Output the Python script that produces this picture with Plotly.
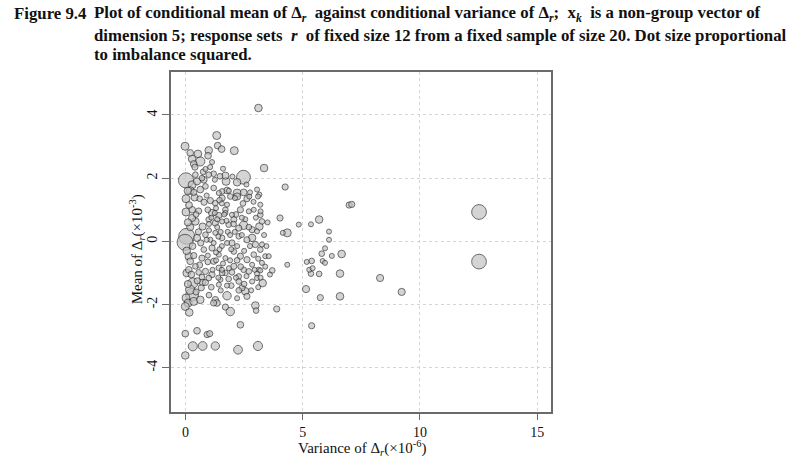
import plotly.graph_objects as go

# ---- data: (variance x1e-6, mean x1e-3, imbalance^2) ----
# sparse points to the right / outliers
var_right = [4.25, 6.98, 7.09, 4.03, 4.83, 5.35, 5.70, 4.34, 6.12, 6.12,
             5.95, 5.81, 6.24, 6.66, 5.85, 5.95, 5.17, 5.38, 4.34, 5.28,
             5.42, 5.35, 5.70, 6.59, 8.30, 3.70, 5.14, 5.75, 6.59, 9.22,
             3.89, 5.38, 12.52, 12.52, 3.11, 3.35, 4.15, 3.55]
mean_right = [1.72, 1.15, 1.17, 0.74, 0.53, 0.54, 0.69, 0.27, 0.31, 0.05,
              -0.22, -0.39, -0.46, -0.40, -0.62, -0.68, -0.65, -0.62, -0.74, -0.90,
              -0.85, -1.02, -1.03, -1.02, -1.16, -0.92, -1.51, -1.78, -1.74, -1.60,
              -2.14, -2.67, 0.93, -0.64, 4.22, 2.32, 0.27, -0.47]
imb_right = [0.6, 0.6, 0.6, 0.6, 0.12, 0.25, 0.9, 1.0, 0.3, 0.3,
             0.2, 0.5, 0.3, 0.9, 0.3, 0.3, 0.15, 0.5, 0.12, 0.4,
             0.4, 0.5, 0.5, 0.9, 0.8, 0.5, 0.8, 0.6, 0.9, 0.8,
             0.6, 0.6, 3.4, 3.4, 0.9, 0.9, 0.12, 0.12]

# upper cluster
var_top = [-0.02, 1.33, 1.37, 1.54, 2.08, 0.20, 0.53, 0.99, 0.96, 0.28,
           0.63, 0.35, 1.13, 0.85, 0.02, 2.47, 1.70, 1.73, 1.20, 0.99,
           0.78, 0.49, 0.42, 0.28, 2.20, 3.05, 3.15, 2.72, 0.20, 0.63,
           1.20, 1.56, 1.77, 2.20, 2.48, 0.85, 1.42, 1.91, 2.11, 1.47]
mean_top = [3.01, 3.35, 3.03, 2.92, 2.87, 2.80, 2.77, 2.88, 2.71, 2.61,
            2.53, 2.45, 2.51, 2.29, 1.93, 2.03, 2.08, 1.90, 2.14, 2.11,
            1.95, 1.90, 2.11, 1.79, 1.87, 1.64, 1.48, 1.42, 1.61, 1.64,
            1.69, 1.58, 1.61, 1.53, 1.55, 1.74, 1.53, 1.42, 1.37, 2.06]
imb_top = [1.0, 1.0, 0.7, 0.7, 1.0, 0.7, 0.9, 0.9, 0.7, 0.9,
           1.3, 0.7, 0.3, 0.4, 3.6, 3.0, 0.8, 1.0, 0.5, 0.5,
           0.7, 0.8, 0.5, 1.0, 0.9, 0.4, 0.4, 0.4, 0.9, 0.7,
           0.5, 0.5, 0.7, 1.0, 0.7, 0.5, 0.4, 0.5, 0.4, 0.5]

# middle band
var_mid = [0.02, 0.39, 0.79, 1.06, 1.27, 1.56, 1.77, 2.20, 2.62, 3.09, 3.19,
           0.02, 0.28, 0.56, 1.13, 1.42, 1.70, 1.98, 2.34, 2.70, 2.91, 3.19, 3.26,
           0.28, 0.42, 0.73, 0.99, 1.27, 1.56, 1.84, 2.06, 2.27, 2.48, 2.84, 3.15, 3.05,
           0.49, 0.85, 1.06, 1.27, 1.56, 1.77, 1.98, 2.27, 2.62, 2.84, 2.98, 3.19, 3.26,
           0.14, 0.20, 0.70, 0.78, 1.13, 1.20, 1.42, 1.70, 2.06, 2.34, 2.62, 2.91, 3.40,
           0.14, 0.42, 0.85, 1.42, 1.70, 2.06, 2.48, 2.84, 3.12, 3.26,
           0.05, -0.02]
mean_mid = [1.35, 1.39, 1.24, 1.29, 1.21, 1.37, 1.16, 1.42, 1.35, 1.42, 1.16,
            0.93, 1.00, 0.96, 0.90, 0.82, 1.00, 0.84, 1.00, 0.95, 1.00, 0.84, 0.63,
            0.74, 0.63, 0.47, 0.69, 0.58, 0.63, 0.53, 0.69, 0.42, 0.51, 0.37, 0.47, 0.32,
            0.11, 0.21, 0.05, 0.27, 0.11, -0.05, -0.05, 0.16, 0.05, 0.11, -0.10, -0.26, -0.10,
            -0.47, -0.63, -0.53, -0.26, -0.21, -0.63, -0.42, -0.53, -0.32, -0.47, -0.58, -0.42, -0.47,
            -0.90, -0.79, -0.95, -0.84, -1.00, -0.79, -0.90, -0.74, -0.90, -0.68,
            0.16, -0.03]
imb_mid = [1.0, 0.8, 0.6, 0.6, 0.5, 0.6, 0.4, 0.8, 0.6, 0.4, 0.4,
           1.0, 0.7, 0.6, 0.8, 0.6, 0.5, 0.4, 0.6, 0.4, 0.3, 0.5, 0.5,
           0.8, 0.9, 0.8, 0.5, 0.6, 0.4, 0.5, 0.6, 0.6, 1.1, 0.6, 0.9, 0.4,
           0.8, 0.5, 0.4, 0.3, 0.5, 0.3, 0.6, 0.5, 0.6, 0.9, 0.6, 0.5, 0.4,
           0.9, 0.7, 0.6, 0.5, 0.6, 0.6, 0.4, 0.3, 0.5, 0.6, 0.6, 0.5, 0.4,
           0.7, 0.5, 0.6, 0.5, 0.5, 0.6, 0.5, 0.3, 0.4, 0.3,
           4.0, 4.0]

# lower cluster
var_low = [0.56, 1.13, 1.56, 1.98, 2.27, 2.70, 3.05, 3.19, 0.70,
           0.99, 1.49, 1.84, 2.27, 2.84, 3.05,
           0.31, 0.28, 0.20, 0.02, 0.11, 0.35, -0.01, 0.16, 0.73, 0.67,
           0.63, 1.77, 1.27, 1.20, 1.34, 1.91, 1.70, 2.98, 3.01, 3.29,
           2.55, 2.41, 2.62, 2.27, 1.77, 1.42, 2.34, -0.01, 0.49, 0.92,
           1.03, 0.31, 0.73, 1.27, 2.24, 3.09, -0.01]
mean_low = [-0.98, -1.05, -1.00, -0.98, -1.11, -0.95, -1.02, -0.92, -1.13,
            -1.16, -1.21, -1.19, -1.27, -1.27, -1.16,
            -1.32, -1.69, -1.53, -1.79, -1.95, -1.90, -2.06, -2.25, -1.30, -1.47,
            -1.85, -1.72, -1.85, -1.95, -1.95, -2.22, -2.08, -2.03, -2.19, -1.32,
            -1.58, -1.47, -1.74, -1.55, -1.40, -1.37, -2.64, -2.92, -2.83, -2.95,
            -2.92, -3.32, -3.31, -3.31, -3.43, -3.31, -3.61]
imb_low = [0.5, 0.6, 0.5, 0.5, 0.5, 0.5, 0.4, 0.3, 0.5,
           0.5, 0.4, 0.5, 0.5, 0.4, 0.4,
           1.65, 2.5, 1.3, 1.0, 1.0, 1.0, 1.0, 0.9, 0.7, 0.6,
           0.9, 1.1, 0.7, 0.6, 0.7, 1.1, 0.6, 0.9, 0.5, 0.9,
           0.9, 0.6, 0.6, 0.5, 0.4, 0.4, 0.7, 0.7, 0.7, 0.6,
           0.6, 1.3, 1.2, 1.1, 1.2, 1.3, 0.9]

# dense core
var_core = [0.35, 0.60, 0.90, 1.45, 1.85, 2.45, 2.75,
            0.15, 0.45, 0.95, 1.35, 1.70, 2.15, 2.55, 3.00,
            0.20, 0.55, 1.00, 1.40, 1.80, 2.05, 2.40, 2.70, 3.35,
            0.30, 0.65, 0.90, 1.30, 1.55, 1.95, 2.20, 2.75, 3.10,
            0.35, 0.60, 0.95, 1.30, 1.55, 1.90, 2.35, 2.60, 2.95,
            0.25, 0.50, 0.85, 1.10, 1.40, 1.95, 2.15, 2.50, 3.20,
            0.05, 0.10, 0.10, 0.05, 0.10,
            0.40, 0.75, 1.05, 1.60, 0.70, 1.25, 2.00, 2.60, 2.90, 3.20,
            3.40, 3.50, 3.60, 3.10, 2.20, 1.00, 0.45, 1.50, 2.80, 3.45,
            1.10, 1.35, 1.50, 1.65, 1.90, 1.20, 1.45, 1.75, 2.10, 1.00,
            1.30, 1.60, 2.20, 0.95, 1.85, 2.40, 1.55, 2.50, 1.15, 1.25]
mean_core = [1.55, 1.35, 1.45, 1.30, 1.60, 1.20, 1.55,
             1.15, 0.85, 1.00, 0.70, 0.90, 0.85, 0.70, 0.75,
             0.45, 0.30, 0.55, 0.15, 0.30, 0.55, 0.20, 0.45, 0.20,
             -0.15, -0.05, 0.05, -0.35, -0.15, -0.25, -0.60, -0.15, -0.55,
             -0.45, -0.75, -0.65, -0.60, -0.90, -0.60, -0.80, -1.10, -0.90,
             -1.05, -1.25, -1.30, -1.45, -1.15, -1.40, -1.15, -1.35, -1.15,
             -0.30, 0.60, 1.60, -1.00, -1.35,
             2.35, 2.20, 2.35, 2.30, 2.00, 1.95, 2.05, 1.80, 1.25, 0.95,
             -0.80, 0.60, -1.05, -1.45, -1.80, -1.70, -1.60, -1.55, -1.55, -0.15,
             0.75, 0.45, 0.30, 0.85, 0.20, -0.05, -0.25, 0.65, 0.30, 0.35,
             1.05, -0.70, -0.15, -0.45, -0.85, 0.75, 1.20, -0.30, -0.90, 0.90]
imb_core = [0.6, 0.5, 0.4, 0.5, 0.4, 0.5, 0.3,
            0.7, 0.5, 0.5, 0.4, 0.4, 0.5, 0.4, 0.3,
            0.8, 0.6, 0.4, 0.3, 0.4, 0.5, 0.4, 0.5, 0.3,
            0.7, 0.6, 0.4, 0.4, 0.3, 0.4, 0.5, 0.4, 0.4,
            0.6, 0.6, 0.5, 0.4, 0.4, 0.4, 0.5, 0.4, 0.3,
            0.7, 0.6, 0.6, 0.5, 0.4, 0.5, 0.4, 0.5, 0.4,
            0.9, 0.8, 0.9, 0.9, 0.8,
            0.6, 0.5, 0.4, 0.4, 0.5, 0.4, 0.4, 0.3, 0.3, 0.4,
            0.3, 0.3, 0.3, 0.3, 0.4, 0.5, 0.6, 0.4, 0.3, 0.3,
            0.12, 0.12, 0.1, 0.12, 0.1, 0.12, 0.1, 0.12, 0.1, 0.12,
            0.12, 0.1, 0.12, 0.1, 0.12, 0.1, 0.12, 0.1, 0.12, 0.1]

x_ticks = [0, 5, 10, 15]
y_ticks = [-4, -2, 0, 2, 4]
y_tick_text = ["-4", "-2", "0", "2", "4"]

var_all = var_right + var_top + var_mid + var_low + var_core
mean_all = mean_right + mean_top + mean_mid + mean_low + mean_core
imb_all = imb_right + imb_top + imb_mid + imb_low + imb_core

# draw larger dots first
order = sorted(range(len(var_all)), key=lambda i: -imb_all[i])
xs = [var_all[i] for i in order]
ys = [mean_all[i] for i in order]
ss = [imb_all[i] for i in order]

MAX_D = 16
sizeref = 2 * max(ss) / MAX_D ** 2

SERIF = "Liberation Serif, Times New Roman, serif"

fig = go.Figure()
fig.add_trace(go.Scatter(
    x=xs, y=ys, mode="markers",
    marker=dict(size=ss, sizemode="area", sizeref=sizeref, sizemin=2.5,
                color="#c2c2c2", line=dict(color="#2e2e2e", width=1)),
    hoverinfo="skip", showlegend=False,
))

axis_common = dict(
    showgrid=True, gridcolor="#d4d4d4", griddash="dot", gridwidth=1,
    showline=True, linecolor="#6a6a6a", linewidth=1.5, mirror=True,
    ticks="outside", tickcolor="#6a6a6a", tickwidth=1.2,
    tickfont=dict(family=SERIF, size=14, color="#111"),
    zeroline=False,
)

fig.update_layout(
    width=801, height=460,
    margin=dict(l=171, r=250, t=72, b=48),
    paper_bgcolor="white", plot_bgcolor="white",
    xaxis=dict(range=[-0.62, 15.59], tickvals=x_ticks, ticklen=6, **axis_common),
    yaxis=dict(range=[-5.40, 5.36], tickvals=y_ticks, ticktext=y_tick_text,
               tickangle=-90, ticklen=7, **axis_common),
)

NB = "\u00a0"
title_font = dict(family=SERIF, size=16.8, color="#111")
annots = [
    dict(text="<b>Figure 9.4</b>", x=-0.418, y=1.1706),
    dict(text="<b>Plot of conditional mean of Δ<sub><i>r</i></sub>" + NB * 2 +
              "against conditional variance of Δ<sub><i>r</i></sub>;" + NB * 2 +
              "x<sub><i>k</i></sub>" + NB * 2 + "is a non-group vector of</b>",
         x=-0.208, y=1.1706),
    dict(text="<b>dimension 5; response sets" + NB * 2 + "<i>r</i>" + NB * 2 +
              "of fixed size 12 from a fixed sample of size 20. Dot size proportional</b>",
         x=-0.208, y=1.1088),
    dict(text="<b>to imbalance squared.</b>", x=-0.208, y=1.05),
]
for a in annots:
    fig.add_annotation(xref="paper", yref="paper", xanchor="left", yanchor="middle",
                       showarrow=False, font=title_font, **a)

fig.add_annotation(xref="paper", yref="paper", x=0.502, y=-0.106,
                   xanchor="center", yanchor="middle", showarrow=False,
                   text="Variance of Δ<sub><i>r</i></sub>(×10<sup>-6</sup>)",
                   font=dict(family=SERIF, size=15, color="#111"))
fig.add_annotation(xref="paper", yref="paper", x=-0.089, y=0.479,
                   xanchor="center", yanchor="middle", showarrow=False, textangle=-90,
                   text="Mean of Δ<sub><i>r</i></sub>(×10<sup>-3</sup>)",
                   font=dict(family=SERIF, size=15, color="#111"))

fig.write_html("out.html")
